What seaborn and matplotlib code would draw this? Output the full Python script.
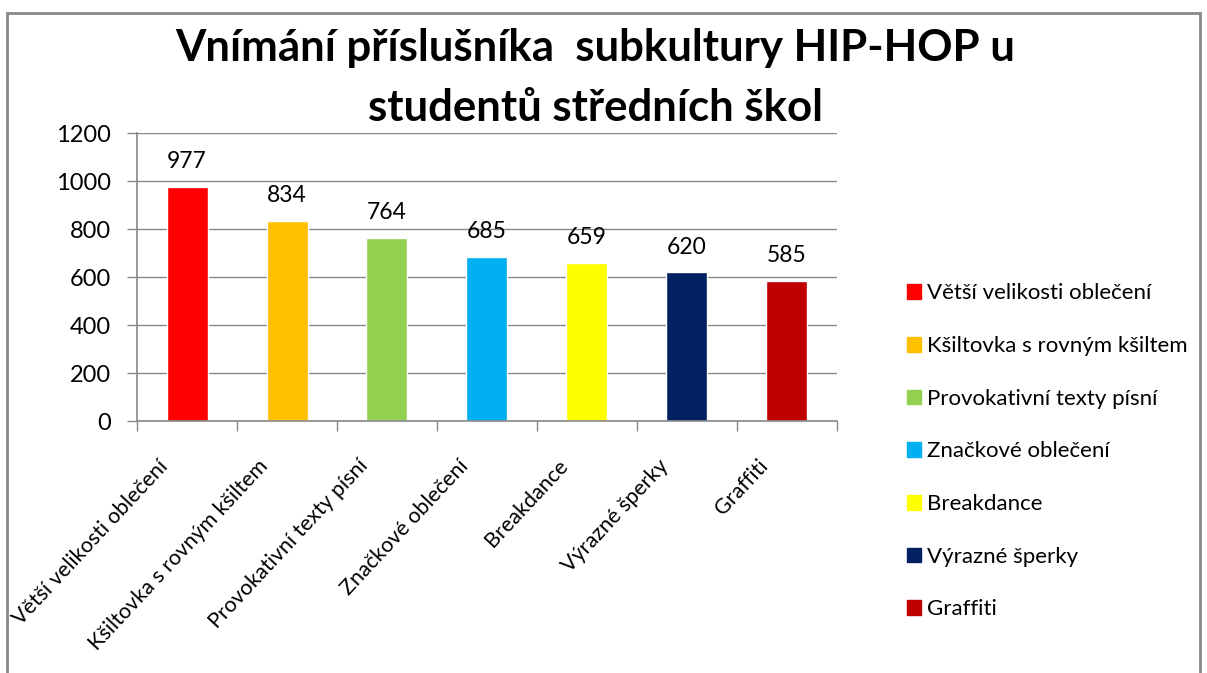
import matplotlib
matplotlib.use("Agg")
import matplotlib.pyplot as plt
import matplotlib.transforms as mtransforms
import seaborn as sns
import pandas as pd
from matplotlib.patches import Rectangle

# Data for the plot
categories = [
    "Větší velikosti oblečení",
    "Kšiltovka s rovným kšiltem",
    "Provokativní texty písní",
    "Značkové oblečení",
    "Breakdance",
    "Výrazné šperky",
    "Graffiti",
]
counts = [977, 834, 764, 685, 659, 620, 585]
colors = ["#ff0000", "#ffc000", "#92d050", "#00b0f0", "#ffff00", "#002060", "#c00000"]
yticks = [0, 200, 400, 600, 800, 1000, 1200]

df = pd.DataFrame({"Kategorie": categories, "Počet": counts})

sns.set_style("white")
plt.rcParams["font.family"] = ["Lato", "DejaVu Sans"]
plt.rcParams["text.color"] = "black"
plt.rcParams["xtick.color"] = "black"
plt.rcParams["ytick.color"] = "black"

fig = plt.figure(figsize=(12.07, 6.73), dpi=100)
ax = fig.add_axes([137 / 1207, 1 - 421 / 673, 700 / 1207, 288 / 673])

sns.barplot(
    data=df, x="Kategorie", y="Počet", hue="Kategorie",
    palette=colors, width=0.41, dodge=False, legend=False, ax=ax,
    saturation=1,
)

# value labels above bars
for i, v in enumerate(counts):
    ax.text(i, v + 60, str(v), ha="center", va="bottom", fontsize=16.5)

ax.set_ylim(0, 1200)
ax.set_xlim(-0.5, len(categories) - 0.5)
ax.set_yticks(yticks)
ax.tick_params(axis="y", labelsize=17, length=7, color="#888888", width=1,
               direction="out", left=True, pad=12)
ax.yaxis.grid(True, color="#888888", linewidth=1)
ax.set_axisbelow(True)

# category boundary ticks on x axis
ax.set_xticks(range(len(categories)))
ax.set_xticklabels(categories, rotation=47, ha="right", va="center",
                   rotation_mode="anchor", fontsize=15.5)
ax.set_xticks([i - 0.5 for i in range(len(categories) + 1)], minor=True)
ax.tick_params(axis="x", which="major", length=0, pad=30)
ax.tick_params(axis="x", which="minor", length=7, color="#888888", width=1,
               direction="out", bottom=True)
shift = mtransforms.ScaledTranslation(-22 / 100, 0, fig.dpi_scale_trans)
for lbl in ax.get_xticklabels():
    lbl.set_transform(lbl.get_transform() + shift)

ax.set_xlabel("")
ax.set_ylabel("")
for s in ["top", "right"]:
    ax.spines[s].set_visible(False)
for s in ["left", "bottom"]:
    ax.spines[s].set_color("#888888")
    ax.spines[s].set_linewidth(1.2)

# legend
handles = [Rectangle((0, 0), 1, 1, color=c) for c in colors]
fig.legend(
    handles, categories, loc="upper left", bbox_to_anchor=(0.744, 0.592),
    frameon=False, fontsize=16, handlelength=0.62, handleheight=0.62,
    handletextpad=0.3, labelspacing=1.47, borderaxespad=0,
)

# title
fig.text(0.493, 0.884, "Vnímání příslušníka  subkultury HIP-HOP u\nstudentů středních škol",
         ha="center", va="center", fontsize=31.5, fontweight="bold", linespacing=1.6)

# outer chart border
fig.patches.append(Rectangle((7 / 1207, -0.1), 1193 / 1207, 1.1 - 13 / 673,
                             transform=fig.transFigure, fill=False,
                             edgecolor="#888888", linewidth=2))

fig.savefig("out.png", dpi=100)
